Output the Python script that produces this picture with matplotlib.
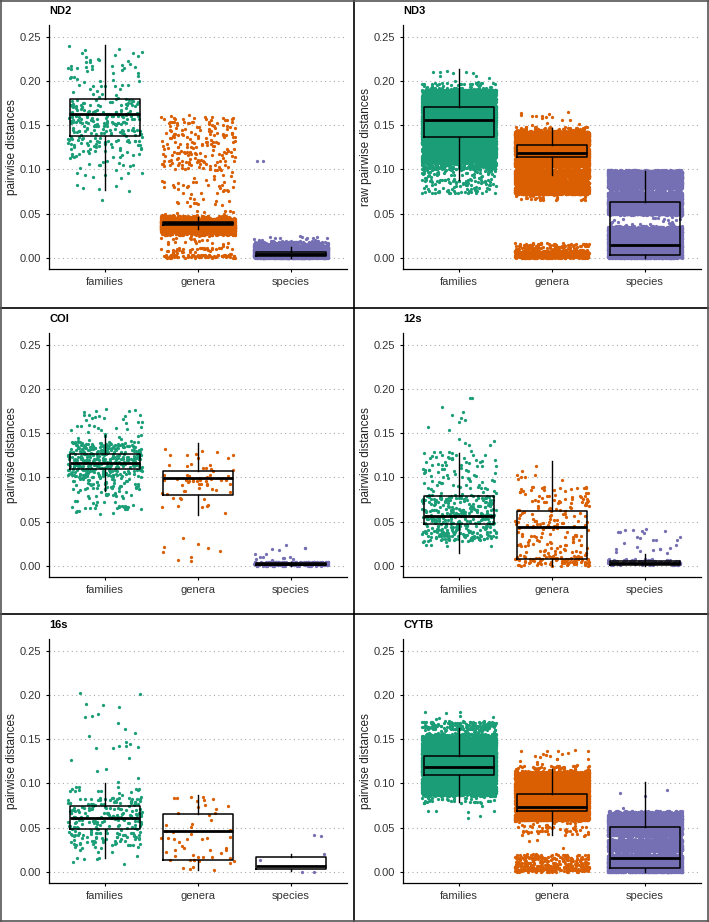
import numpy as np
import matplotlib
matplotlib.use('Agg')
import matplotlib.pyplot as plt
from matplotlib.lines import Line2D

plt.rcParams['font.family'] = ['Liberation Sans', 'DejaVu Sans']

groups = ['families', 'genera', 'species']
colors = ['#1B9E77', '#D95F02', '#7570B3']

genes = ['ND2', 'ND3', 'COI', '12s', '16s', 'CYTB']
ylabels = ['pairwise distances', 'raw pairwise distances', 'pairwise distances',
           'pairwise distances', 'pairwise distances', 'pairwise distances']

# box stats per group: (whisker low, q1, median, q3, whisker high)
nd2_box = [(0.077, 0.138, 0.162, 0.180, 0.240),
           (0.033, 0.037, 0.039, 0.041, 0.046),
           (0.000, 0.002, 0.005, 0.007, 0.012)]
nd3_box = [(0.088, 0.137, 0.156, 0.170, 0.213),
           (0.094, 0.114, 0.119, 0.127, 0.147),
           (0.000, 0.003, 0.015, 0.063, 0.098)]
coi_box = [(0.085, 0.110, 0.116, 0.126, 0.148),
           (0.058, 0.080, 0.099, 0.107, 0.139),
           (0.000, 0.001, 0.002, 0.003, 0.005)]
s12_box = [(0.015, 0.047, 0.056, 0.079, 0.127),
           (0.000, 0.008, 0.044, 0.062, 0.119),
           (0.000, 0.001, 0.003, 0.006, 0.013)]
s16_box = [(0.016, 0.049, 0.061, 0.075, 0.100),
           (0.002, 0.013, 0.046, 0.065, 0.087),
           (0.001, 0.003, 0.007, 0.017, 0.020)]
cytb_box = [(0.079, 0.109, 0.119, 0.131, 0.162),
            (0.042, 0.069, 0.073, 0.088, 0.116),
            (0.000, 0.004, 0.016, 0.051, 0.102)]

# point clouds: (low, high, number of points)
nd2_pts = [
    [(0.23, 0.241, 6), (0.18, 0.23, 50), (0.12, 0.18, 210), (0.09, 0.12, 30), (0.058, 0.09, 6)],
    [(0.10, 0.161, 190), (0.06, 0.10, 50), (0.046, 0.06, 10), (0.044, 0.048, 120),
     (0.030, 0.044, 3000), (0.026, 0.030, 150), (0.012, 0.026, 25), (0.006, 0.012, 35),
     (0.0, 0.004, 80)],
    [(0.0, 0.014, 3000), (0.014, 0.019, 150), (0.019, 0.026, 15), (0.11, 0.11, 2)],
]
nd3_pts = [
    [(0.198, 0.214, 12), (0.19, 0.198, 60), (0.108, 0.19, 8000), (0.10, 0.108, 200),
     (0.088, 0.10, 60), (0.073, 0.088, 90)],
    [(0.148, 0.165, 15), (0.143, 0.148, 60), (0.104, 0.143, 6000), (0.100, 0.104, 80),
     (0.091, 0.100, 1200), (0.088, 0.091, 60), (0.072, 0.088, 2000), (0.065, 0.072, 30),
     (0.008, 0.017, 120), (0.0, 0.008, 500)],
    [(0.079, 0.099, 3500), (0.074, 0.079, 100), (0.049, 0.074, 4000), (0.036, 0.049, 25),
     (0.033, 0.036, 200), (0.0, 0.033, 6000)],
]
coi_pts = [
    [(0.14, 0.178, 40), (0.10, 0.14, 350), (0.085, 0.10, 50), (0.058, 0.085, 45)],
    [(0.115, 0.14, 10), (0.09, 0.115, 35), (0.075, 0.09, 12), (0.055, 0.075, 6), (0.004, 0.033, 9)],
    [(0.0, 0.005, 220), (0.005, 0.028, 15)],
]
s12_pts = [
    [(0.13, 0.193, 15), (0.08, 0.13, 90), (0.028, 0.08, 350), (0.015, 0.028, 6)],
    [(0.09, 0.12, 8), (0.012, 0.09, 170), (0.0, 0.012, 90)],
    [(0.015, 0.042, 25), (0.0, 0.008, 80)],
]
s16_pts = [
    [(0.10, 0.212, 25), (0.085, 0.10, 15), (0.03, 0.085, 220), (0.008, 0.03, 15)],
    [(0.0, 0.088, 55)],
    [(0.0, 0.0, 2), (0.042, 0.042, 1), (0.041, 0.041, 1), (0.020, 0.020, 1), (0.013, 0.013, 1)],
]
cytb_pts = [
    [(0.17, 0.183, 8), (0.16, 0.17, 160), (0.156, 0.16, 20), (0.152, 0.156, 150),
     (0.09, 0.152, 7500), (0.086, 0.09, 150), (0.078, 0.086, 40), (0.06, 0.078, 8)],
    [(0.12, 0.139, 20), (0.113, 0.12, 60), (0.058, 0.113, 6000), (0.040, 0.058, 60),
     (0.025, 0.04, 3), (0.008, 0.02, 150), (0.0, 0.008, 200)],
    [(0.07, 0.103, 4), (0.066, 0.069, 150), (0.041, 0.066, 4000), (0.036, 0.041, 80),
     (0.024, 0.036, 2000), (0.019, 0.024, 100), (0.0, 0.019, 4000)],
]

boxes = [nd2_box, nd3_box, coi_box, s12_box, s16_box, cytb_box]
points = [nd2_pts, nd3_pts, coi_pts, s12_pts, s16_pts, cytb_pts]

W, H = 709, 922
fig = plt.figure(figsize=(W / 100, H / 100), dpi=100)
rng = np.random.default_rng(3)

col_x = [0, 354]
row_y = [0, 308, 614]

for k, gene in enumerate(genes):
    c, r = k % 2, k // 2
    x0, y0 = col_x[c], row_y[r]
    ax = fig.add_axes([(x0 + 49) / W, 1 - (y0 + 269) / H, 298 / W, 244 / H])

    for g in range(3):
        ys = []
        for lo, hi, n in points[k][g]:
            ys.append(rng.uniform(lo, hi, n))
        ys = np.concatenate(ys)
        xs = g + 1 + rng.uniform(-0.4, 0.4, len(ys))
        ax.scatter(xs, ys, s=5.5, color=colors[g], linewidths=0, zorder=2)

    stats = []
    for g, (lo, q1, med, q3, hi) in enumerate(boxes[k]):
        stats.append(dict(whislo=lo, q1=q1, med=med, q3=q3, whishi=hi, fliers=[]))
    ax.bxp(stats, positions=[1, 2, 3], widths=0.76, showcaps=False, showfliers=False,
           boxprops=dict(color='black', linewidth=1.1),
           whiskerprops=dict(color='black', linewidth=1.0),
           medianprops=dict(color='black', linewidth=2.0),
           zorder=3)

    ax.set_xlim(0.398, 3.602)
    ax.set_ylim(-0.0124, 0.263)
    ax.set_xticks([1, 2, 3])
    ax.set_xticklabels(groups)
    ax.set_yticks([0, 0.05, 0.10, 0.15, 0.20, 0.25])
    ax.set_yticklabels(['0.00', '0.05', '0.10', '0.15', '0.20', '0.25'])
    ax.yaxis.grid(True, linestyle=(0, (1, 3)), color='#AAAAAA', linewidth=0.8)
    ax.set_axisbelow(True)
    ax.tick_params(labelsize=8, labelcolor='#333333', length=2.5, width=0.8, color='black')
    for sp in ['top', 'right']:
        ax.spines[sp].set_visible(False)
    for sp in ['left', 'bottom']:
        ax.spines[sp].set_linewidth(0.9)
    ax.set_ylabel(ylabels[k], fontsize=8.5, color='#222222', labelpad=1)
    ax.set_title(gene, loc='left', fontsize=8, fontweight='bold', pad=8)

# panel borders
lw = 1.2
fig.add_artist(Line2D([354 / W, 354 / W], [0, 1], color='black', linewidth=lw))
for yb in [308, 614]:
    fig.add_artist(Line2D([0, 1], [1 - yb / H, 1 - yb / H], color='black', linewidth=lw))
for xs_, ys_ in [([0, 1], [0.001, 0.001]), ([0, 1], [0.999, 0.999]),
                 ([0.001, 0.001], [0, 1]), ([0.999, 0.999], [0, 1])]:
    fig.add_artist(Line2D(xs_, ys_, color='#555555', linewidth=lw))

fig.savefig('out.png', dpi=100)
